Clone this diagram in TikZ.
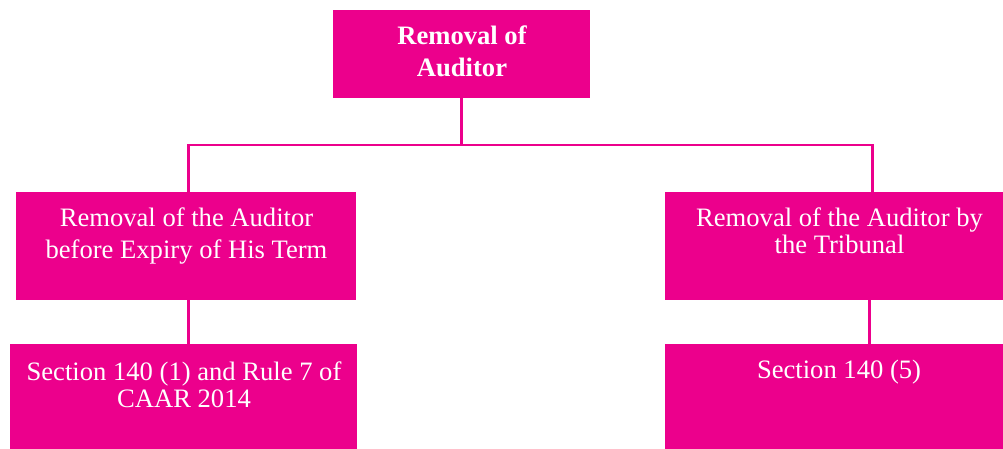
\documentclass[tikz,border=0pt]{standalone}
\usepackage{fontspec}
\setmainfont{Liberation Serif}
\definecolor{mag}{HTML}{EC008C}
\begin{document}
\begin{tikzpicture}[x=1pt,y=-1pt,
  box/.style={fill=mag,draw=none,inner sep=0pt,anchor=north west},
  txt/.style={text=white,inner sep=0pt,anchor=base,font=\fontsize{26.6}{30}\selectfont},
  btxt/.style={txt,font=\fontsize{26.6}{30}\selectfont\bfseries},
  conn/.style={draw=mag,line width=2.8pt}]
\useasboundingbox (0,0) rectangle (1003,449);
% boxes
\node[box,minimum width=257pt,minimum height=88pt] (top) at (333,10) {};
\node[box,minimum width=340pt,minimum height=108pt] (lb) at (16,192) {};
\node[box,minimum width=338pt,minimum height=108pt] (rb) at (665,192) {};
\node[box,minimum width=347pt,minimum height=105pt] (lbb) at (10,344) {};
\node[box,minimum width=338pt,minimum height=105pt] (rbb) at (665,344) {};
% texts
\node[btxt] (t1) at (462,45) {Removal of};
\node[btxt] (t2) at (462,77) {Auditor};
\node[txt] (l1) at (186.5,226.5) {Removal of the Auditor};
\node[txt] (l2) at (186.5,258) {before Expiry of His Term};
\node[txt] (lb1) at (184,380) {Section 140 (1) and Rule 7 of};
\node[txt] (lb2) at (184,407) {CAAR 2014};
\node[txt] (r1) at (839.5,226) {Removal of the Auditor by};
\node[txt] (r2) at (839.5,253) {the Tribunal};
\node[txt] (rb1) at (839,378) {Section 140 (5)};
% connectors
\coordinate (hj) at (top.south |- 0,145);
\draw[conn] (top.south) -- (hj);
\draw[conn] ([xshift=2pt]lb.north) |- (hj) -| ([xshift=38pt]rb.north);
\draw[conn] ([xshift=2pt]lb.south) -- ([xshift=4.5pt]lbb.north);
\draw[conn] ([xshift=35pt]rb.south) -- ([xshift=35pt]rbb.north);
\end{tikzpicture}
\end{document}
